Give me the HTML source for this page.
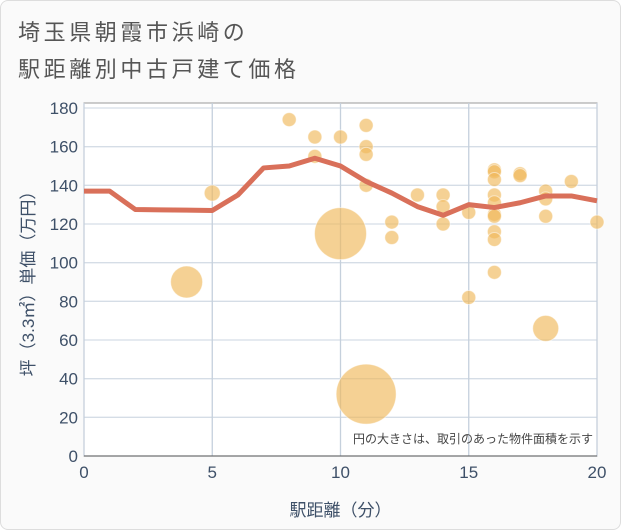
<!DOCTYPE html>
<html><head><meta charset="utf-8"><style>
body{margin:0;background:#fff;}
#card{position:relative;width:619px;height:528px;border:1px solid #ddd;border-radius:8px;background:#fafafa;overflow:hidden;font-family:"Liberation Sans","Noto Sans CJK JP",sans-serif;}
#title{position:absolute;left:17px;top:13px;font-size:22px;letter-spacing:3.6px;line-height:37px;color:#555;}
</style></head><body>
<div id="card">
<div id="title">埼玉県朝霞市浜崎の<br>駅距離別中古戸建て価格</div>
<svg id="chart" width="621" height="530" style="position:absolute;left:-1px;top:-1px"></svg>
</div>
<script>
const xTicks=[0,5,10,15,20];
const yTicks=[0,20,40,60,80,100,120,140,160,180];
const pointX=[4,5,8,9,9,10,10,11,11,11,11,11,12,12,13,14,14,14,15,15,16,16,16,16,16,16,16,16,16,16,17,17,18,18,18,18,19,20];
const pointY=[90,136,174,165,155,165,115,171,160,156,140,32,121,113,135,135,129,120,126,82,148,147,143,135,131,125,124,116,112,95,146,145,137,133,124,66,142,121];
const pointR=[16,8,7,7,7,7,26,7,7,7,7,30,7,7,7,7,7,7,7,7,7,7,7,7,7,7,7,7,7,7,7,7,7,7,7,13,7,7];
const lineX=[0,1,2,3,4,5,6,7,8,9,10,11,12,13,14,15,16,17,18,19,20];
const lineY=[137,137,127.5,127.3,127.2,127,135,149,150,154,150,142,136,129,124.5,130,128.5,131,134.5,134.5,132];
const NS="http://www.w3.org/2000/svg";
const svg=document.getElementById('chart');
const L=84,R=597,T=103,B=456;
const TXT='#3e5068';
const sx=v=>L+(v-0)/20*(R-L);
const sy=v=>B-(v/180)*(B-108);
function mk(t,a){const e=document.createElementNS(NS,t);for(const k in a)e.setAttribute(k,a[k]);svg.appendChild(e);return e;}
let bg=mk('rect',{x:L,y:T,width:R-L,height:B-T,fill:'#fff',stroke:'#999','stroke-width':1});


yTicks.forEach(v=>{
 let g=mk('line',{x1:L,x2:R,y1:sy(v),y2:sy(v),stroke:'#d5dde6','stroke-width':1.3});
 
 
 let t=mk('text',{x:L-6,y:sy(v)+6,'text-anchor':'end','font-size':17,fill:TXT});
 t.textContent=v;
 
 
});
xTicks.forEach(v=>{
 let g=mk('line',{x1:sx(v),x2:sx(v),y1:T,y2:B,stroke:'#c5d0dc','stroke-width':1.3});
 
 
 let t=mk('text',{x:sx(v),y:B+22,'text-anchor':'middle','font-size':17,fill:TXT});
 t.textContent=v;
 
 
});
pointX.forEach((x,i)=>{
 let c=mk('circle',{cx:sx(x),cy:sy(pointY[i]),r:pointR[i],fill:'rgba(240,185,90,0.65)',stroke:'rgba(255,255,255,0.5)','stroke-width':1});
 
 
});
let p=mk('polyline',{points:lineX.map((x,i)=>sx(x)+','+sy(lineY[i])).join(' '),fill:'none',stroke:'#d9705a','stroke-width':5,'stroke-linejoin':'round'});


let ax=mk('line',{x1:L,x2:R,y1:B,y2:B,stroke:'#555','stroke-width':1});


let note=mk('text',{x:593,y:443,'text-anchor':'end','font-size':12,fill:'#444'});
note.textContent='円の大きさは、取引のあった物件面積を示す';


let xt=mk('text',{x:(L+R)/2,y:516,'text-anchor':'middle','font-size':17,fill:TXT});
xt.textContent='駅距離（分）';


let yt=mk('text',{x:0,y:0,'text-anchor':'middle','font-size':17,fill:TXT,transform:'translate(34,'+(T+B)/2+') rotate(-90)'});
yt.textContent='坪（3.3㎡）単価（万円）';


</script>
</body></html>
